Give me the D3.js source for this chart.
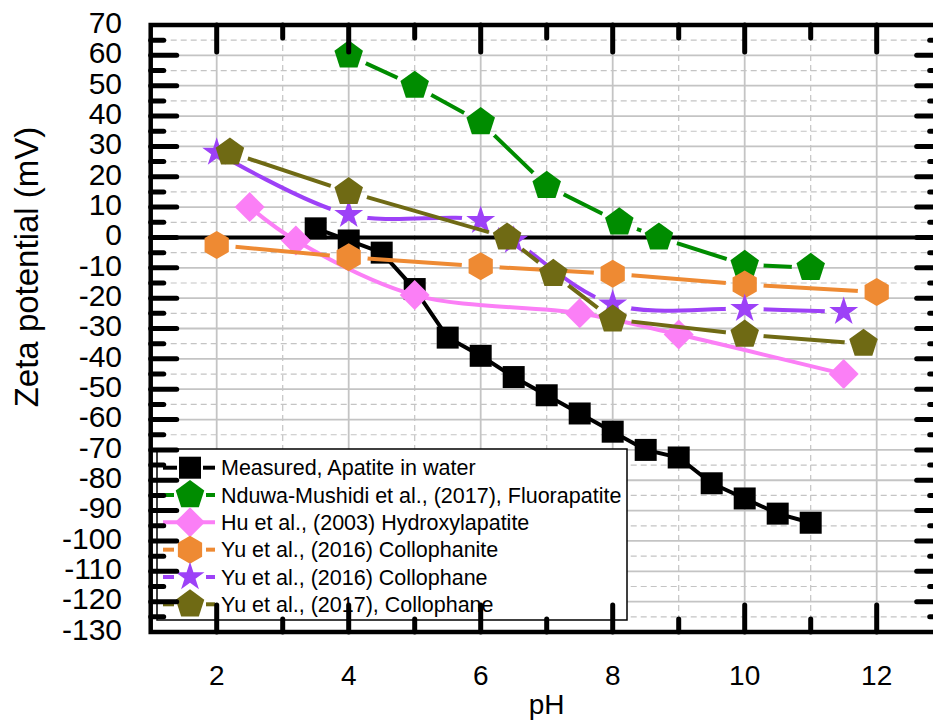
<!DOCTYPE html>
<html>
<head>
<meta charset="utf-8">
<script src="https://cdn.jsdelivr.net/npm/d3@7"></script>
<style>
  html, body { margin: 0; padding: 0; background: #fff; }
  svg { display: block; font-family: "Liberation Sans", Arial, sans-serif; }
</style>
</head>
<body>
<div id="chart"></div>
<script>
// pH values and zeta potentials (mV)
const measuredPH   = [3.5, 4, 4.5, 5, 5.5, 6, 6.5, 7, 7.5, 8, 8.5, 9, 9.5, 10, 10.5, 11];
const measuredZeta = [3, -1, -5, -17, -33, -39, -46, -52, -58, -64, -70, -72.5, -81, -86, -91, -94];

const nduwaPH   = [4, 5, 6, 7, 8.1, 8.7, 10, 11];
const nduwaZeta = [60, 50, 38, 17, 5, 0, -9, -10];

const huPH   = [2.5, 3.2, 5, 7.5, 9, 11.5];
const huZeta = [10, -1, -19, -25, -32, -45];

const yu16aPH   = [2, 4, 6, 8, 10, 12];
const yu16aZeta = [-2.5, -6.5, -9.5, -12, -15.5, -18];

const yu16bPH   = [2, 4, 6, 6.5, 8, 10, 11.5];
const yu16bZeta = [28, 7.5, 5.5, -1, -22, -23.5, -24.5];

const yu17PH   = [2.2, 4, 6.4, 7.1, 8, 10, 11.8];
const yu17Zeta = [28, 15, 0, -12, -27, -32, -35];

const seriesNames = [
  "Measured, Apatite in water",
  "Nduwa-Mushidi et al., (2017), Fluorapatite",
  "Hu et al., (2003) Hydroxylapatite",
  "Yu et al., (2016) Collophanite",
  "Yu et al., (2016) Collophane",
  "Yu et al., (2017), Collophane"
];

const xTickValues = [2, 4, 6, 8, 10, 12];
const yTickValues = [70, 60, 50, 40, 30, 20, 10, 0, -10, -20, -30, -40, -50, -60, -70, -80, -90, -100, -110, -120, -130];

const W = 933, H = 720;
const plotL = 150.7, plotR = 942.7, plotT = 25, plotB = 632;

const x = d3.scaleLinear().domain([1, 13]).range([plotL, plotR]);
const y = d3.scaleLinear().domain([-130, 70]).range([plotB, plotT]);

// marker shapes
function polygon(n, r, rot) {
  const pts = d3.range(n).map(i => {
    const a = rot + i * 2 * Math.PI / n;
    return [r * Math.cos(a), r * Math.sin(a)];
  });
  return "M" + pts.map(p => p[0].toFixed(2) + "," + p[1].toFixed(2)).join("L") + "Z";
}
const shapes = {
  square: () => "M-11,-11H11V11H-11Z",
  pentagon: () => polygon(5, 15, -Math.PI / 2),
  diamond: () => "M0,-15L15,0L0,15L-15,0Z",
  hexagon: () => polygon(6, 14, -Math.PI / 2),
  star: () => d3.symbol(d3.symbolStar, 260)()
};

const series = [
  { ph: measuredPH, z: measuredZeta, color: "#000000", shape: "square", gap: 0, curve: d3.curveLinear },
  { ph: nduwaPH, z: nduwaZeta, color: "#008c00", shape: "pentagon", gap: 19, curve: d3.curveLinear },
  { ph: huPH, z: huZeta, color: "#fb7ff6", shape: "diamond", gap: 0, curve: d3.curveCatmullRom },
  { ph: yu16aPH, z: yu16aZeta, color: "#ee8a33", shape: "hexagon", gap: 19, curve: d3.curveLinear },
  { ph: yu16bPH, z: yu16bZeta, color: "#9d41f7", shape: "star", gap: 19, curve: d3.curveCatmullRom },
  { ph: yu17PH, z: yu17Zeta, color: "#6f6a14", shape: "pentagon", gap: 19, curve: d3.curveLinear }
];

const svg = d3.select("#chart").append("svg")
  .attr("width", W)
  .attr("height", H);

const defs = svg.append("defs");
const grid = svg.append("g");

// minor (dashed) and major (solid) grid
const yMinor = yTickValues.slice(0, -1).map(v => v - 5);
grid.selectAll(".hminor").data(yMinor).enter().append("line")
  .attr("x1", plotL).attr("x2", plotR)
  .attr("y1", d => y(d)).attr("y2", d => y(d))
  .attr("stroke", "#c4c4c4").attr("stroke-width", 1.2).attr("stroke-dasharray", "6,4");
grid.selectAll(".hmajor").data(yTickValues.slice(1, -1)).enter().append("line")
  .attr("x1", plotL).attr("x2", plotR)
  .attr("y1", d => y(d)).attr("y2", d => y(d))
  .attr("stroke", "#c4c4c4").attr("stroke-width", 1.8);

const xMinor = d3.range(3, 13, 2);
grid.selectAll(".vminor").data(xMinor).enter().append("line")
  .attr("y1", plotT).attr("y2", plotB)
  .attr("x1", d => x(d)).attr("x2", d => x(d))
  .attr("stroke", "#c4c4c4").attr("stroke-width", 1.2).attr("stroke-dasharray", "6,4");
grid.selectAll(".vmajor").data(xTickValues).enter().append("line")
  .attr("y1", plotT).attr("y2", plotB)
  .attr("x1", d => x(d)).attr("x2", d => x(d))
  .attr("stroke", "#c4c4c4").attr("stroke-width", 1.8);

// zero line
svg.append("line")
  .attr("x1", plotL).attr("x2", plotR)
  .attr("y1", y(0)).attr("y2", y(0))
  .attr("stroke", "#000").attr("stroke-width", 4);

// series
series.forEach((s, i) => {
  const pts = s.ph.map((p, k) => [x(p), y(s.z[k])]);
  const g = svg.append("g");
  const line = d3.line().curve(s.curve);
  const path = g.append("path")
    .attr("d", line(pts))
    .attr("fill", "none")
    .attr("stroke", s.color)
    .attr("stroke-width", 4);
  if (s.gap > 0) {
    const m = defs.append("mask").attr("id", "gap" + i)
      .attr("maskUnits", "userSpaceOnUse")
      .attr("x", 0).attr("y", 0).attr("width", W).attr("height", H);
    m.append("rect").attr("width", W).attr("height", H).attr("fill", "#fff");
    m.selectAll("circle").data(pts).enter().append("circle")
      .attr("cx", d => d[0]).attr("cy", d => d[1]).attr("r", s.gap).attr("fill", "#000");
    path.attr("mask", "url(#gap" + i + ")");
  }
  g.selectAll(".mk").data(pts).enter().append("path")
    .attr("d", shapes[s.shape]())
    .attr("transform", d => `translate(${d[0]},${d[1]})`)
    .attr("fill", s.color);
});

// legend
const lg = svg.append("g");
lg.append("rect")
  .attr("x", 157).attr("y", 449).attr("width", 470).attr("height", 171)
  .attr("fill", "#fff").attr("stroke", "#000").attr("stroke-width", 1.5);
const rowY = d3.scaleLinear().domain([0, 5]).range([467.7, 604.3]);
series.forEach((s, i) => {
  const cy = rowY(i);
  const gap = s.gap > 0 ? 16 : (i === 0 ? 13 : 0);
  if (gap > 0) {
    lg.append("line").attr("x1", 163).attr("x2", 190 - gap).attr("y1", cy).attr("y2", cy)
      .attr("stroke", s.color).attr("stroke-width", 4);
    lg.append("line").attr("x1", 190 + gap).attr("x2", 215).attr("y1", cy).attr("y2", cy)
      .attr("stroke", s.color).attr("stroke-width", 4);
  } else {
    lg.append("line").attr("x1", 163).attr("x2", 215).attr("y1", cy).attr("y2", cy)
      .attr("stroke", s.color).attr("stroke-width", 4);
  }
  lg.append("path")
    .attr("d", shapes[s.shape]())
    .attr("transform", `translate(190,${cy})`)
    .attr("fill", s.color);
  lg.append("text")
    .attr("x", 221).attr("y", cy)
    .attr("dy", "0.36em")
    .attr("font-size", 21.5)
    .attr("fill", "#000")
    .text(seriesNames[i]);
});

// frame and ticks
const ax = svg.append("g").attr("stroke", "#000").attr("stroke-linecap", "round");
const yMajor = yTickValues.slice(1, -1);
[[plotL, 1], [plotR, -1]].forEach(([x0, dir]) => {
  ax.selectAll(null).data(yMajor).enter().append("line")
    .attr("x1", x0).attr("x2", x0 + dir * 26)
    .attr("y1", d => y(d)).attr("y2", d => y(d)).attr("stroke-width", 5);
  ax.selectAll(null).data(yMinor).enter().append("line")
    .attr("x1", x0).attr("x2", x0 + dir * 13)
    .attr("y1", d => y(d)).attr("y2", d => y(d)).attr("stroke-width", 5);
});
[[plotT, 1], [plotB, -1]].forEach(([y0, dir]) => {
  ax.selectAll(null).data(xTickValues).enter().append("line")
    .attr("y1", y0).attr("y2", y0 + dir * 27)
    .attr("x1", d => x(d)).attr("x2", d => x(d)).attr("stroke-width", 5);
  ax.selectAll(null).data(xMinor).enter().append("line")
    .attr("y1", y0).attr("y2", y0 + dir * 13)
    .attr("x1", d => x(d)).attr("x2", d => x(d)).attr("stroke-width", 5);
});
svg.append("rect")
  .attr("x", plotL).attr("y", plotT)
  .attr("width", plotR - plotL).attr("height", plotB - plotT)
  .attr("fill", "none").attr("stroke", "#000").attr("stroke-width", 4.5);

// tick labels
svg.append("g").selectAll("text").data(yTickValues).enter().append("text")
  .attr("x", 122).attr("y", d => y(d) - 3)
  .attr("dy", "0.36em")
  .attr("text-anchor", "end")
  .attr("font-size", 30)
  .text(d => d);

svg.append("g").selectAll("text").data(xTickValues).enter().append("text")
  .attr("x", d => x(d)).attr("y", 685)
  .attr("text-anchor", "middle")
  .attr("font-size", 28)
  .text(d => d);

// axis titles
svg.append("text")
  .attr("x", (plotL + plotR) / 2).attr("y", 714)
  .attr("text-anchor", "middle")
  .attr("font-size", 28)
  .text("pH");

svg.append("text")
  .attr("transform", "translate(38,267) rotate(-90)")
  .attr("text-anchor", "middle")
  .attr("font-size", 33)
  .text("Zeta potential (mV)");
</script>
</body>
</html>
